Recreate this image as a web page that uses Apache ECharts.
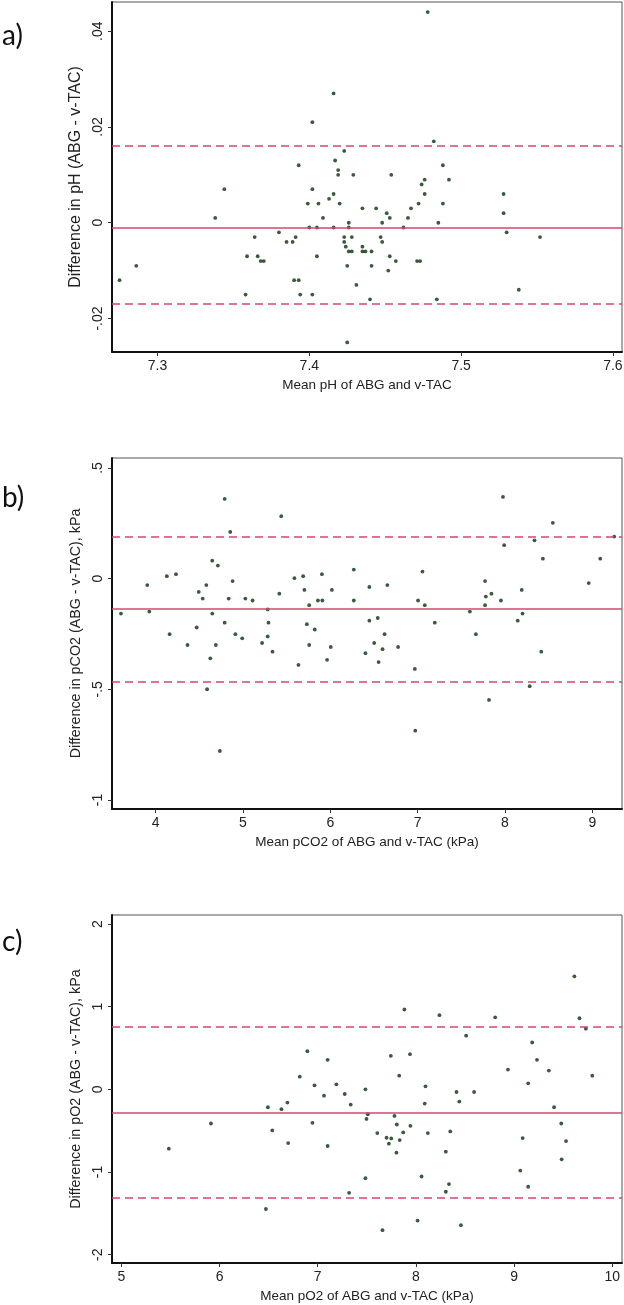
<!DOCTYPE html>
<html>
<head>
<meta charset="utf-8">
<script src="https://cdn.jsdelivr.net/npm/echarts@6/dist/echarts.min.js"></script>
<style>
html,body{margin:0;padding:0;background:#fff;}
#chart{width:624px;height:1305px;}
</style>
</head>
<body>
<div id="chart"></div>
<script>
// ---------- Panel a: pH ----------
const phMean = [7.478,7.416,7.402,7.482,7.423,7.393,7.417,7.488,7.419,7.419,7.429,7.454,7.492,7.476,7.474,7.344,7.402,7.476,7.416,7.528,7.413,7.399,7.406,7.420,7.472,7.488,7.435,7.444,7.467,7.451,7.528,7.338,7.409,7.453,7.465,7.400,7.405,7.416,7.426,7.426,7.448,7.485,7.462,7.530,7.380,7.364,7.391,7.423,7.428,7.447,7.552,7.385,7.389,7.423,7.448,7.424,7.435,7.426,7.428,7.435,7.437,7.441,7.359,7.366,7.405,7.453,7.368,7.370,7.457,7.471,7.473,7.286,7.425,7.441,7.452,7.275,7.390,7.393,7.431,7.538,7.358,7.394,7.402,7.440,7.484,7.425];
const phDiff = [0.044,0.027,0.021,0.017,0.015,0.012,0.013,0.012,0.011,0.010,0.010,0.010,0.009,0.009,0.008,0.007,0.007,0.006,0.006,0.006,0.005,0.004,0.004,0.004,0.004,0.004,0.003,0.003,0.003,0.002,0.002,0.001,0.001,0.001,0.001,-0.001,-0.001,-0.001,-0.001,0.000,0.000,0.000,-0.001,-0.002,-0.002,-0.003,-0.003,-0.003,-0.003,-0.003,-0.003,-0.004,-0.004,-0.004,-0.004,-0.005,-0.005,-0.006,-0.006,-0.006,-0.006,-0.006,-0.007,-0.007,-0.007,-0.007,-0.008,-0.008,-0.008,-0.008,-0.008,-0.009,-0.009,-0.009,-0.010,-0.012,-0.012,-0.012,-0.013,-0.014,-0.015,-0.015,-0.015,-0.016,-0.016,-0.025];
const phLines = { bias: -0.001, upper: 0.016, lower: -0.017 };
const phXTicks = [7.3, 7.4, 7.5, 7.6];
const phXLabels = ['7.3', '7.4', '7.5', '7.6'];
const phYTicks = [-0.02, 0, 0.02, 0.04];
const phYLabels = ['-.02', '0', '.02', '.04'];

// ---------- Panel b: pCO2 ----------
const co2Mean = [3.603,3.904,3.927,4.128,4.233,4.160,4.365,4.470,4.493,4.539,4.580,4.648,4.712,4.648,4.689,4.790,4.854,4.881,4.836,4.790,4.913,4.991,5.027,5.110,5.219,5.283,5.292,5.283,5.438,5.416,5.589,5.689,5.703,5.758,5.731,5.822,5.758,5.858,5.909,5.904,6.018,6.005,6.269,6.269,6.447,6.447,6.543,6.621,6.502,6.598,6.653,6.776,7.005,7.082,7.055,7.196,7.598,7.667,7.772,7.772,7.781,7.845,7.954,7.977,7.991,8.146,8.192,8.201,8.338,8.434,8.548,9.251,8.959,9.091,8.416,4.626,5.635,5.963,6.402,6.553,6.968,5.338,4.589,7.817,8.283,6.973,4.735];
const co2Diff = [-0.158,-0.029,-0.149,0.011,0.020,-0.251,-0.300,-0.221,-0.060,-0.090,-0.029,0.081,0.059,-0.158,-0.300,0.360,0.211,-0.011,-0.090,-0.199,-0.251,-0.270,-0.090,-0.099,-0.291,-0.139,-0.199,-0.261,0.282,-0.068,0.002,0.011,-0.051,-0.120,-0.206,-0.230,-0.300,-0.099,-0.099,0.020,-0.051,-0.309,0.041,-0.099,-0.038,-0.190,-0.178,-0.251,-0.291,-0.319,-0.029,-0.309,-0.099,-0.120,0.032,-0.199,-0.149,-0.251,-0.011,-0.120,-0.081,-0.068,-0.099,0.369,0.151,-0.190,-0.051,-0.158,0.173,0.090,0.252,0.190,-0.020,0.090,-0.330,-0.360,-0.390,-0.367,-0.337,-0.377,-0.408,-0.330,-0.500,-0.548,-0.486,-0.687,-0.779];
const co2Lines = { bias: -0.138, upper: 0.19, lower: -0.465 };
const co2XTicks = [4, 5, 6, 7, 8, 9];
const co2XLabels = ['4', '5', '6', '7', '8', '9'];
const co2YTicks = [-1, -0.5, 0, 0.5];
const co2YLabels = ['-1', '-.5', '0', '.5'];

// ---------- Panel c: pO2 ----------
const o2Mean = [9.615,7.883,8.240,8.808,9.667,9.732,8.512,9.185,6.894,7.940,7.745,7.101,9.234,8.938,9.355,6.817,7.830,9.797,6.967,7.190,8.098,9.144,7.486,7.275,7.064,8.414,8.593,9.408,6.492,6.630,6.691,7.336,8.090,8.443,7.510,7.497,7.782,5.912,6.946,7.806,7.944,9.481,6.537,7.607,7.871,8.122,8.350,7.701,7.749,7.835,9.088,9.530,6.699,7.725,5.483,7.101,7.802,8.305,9.485,9.064,7.486,8.058,9.144,8.337,7.320,8.305,6.472,8.017,8.459,7.660];
const o2Diff = [1.367,0.966,0.897,0.872,0.860,0.734,0.649,0.568,0.462,0.426,0.406,0.357,0.357,0.239,0.227,0.154,0.166,0.166,0.049,0.061,0.037,0.073,0.000,-0.056,-0.076,-0.032,-0.032,-0.216,-0.216,-0.240,-0.160,-0.184,-0.172,-0.148,-0.301,-0.357,-0.321,-0.413,-0.405,-0.425,-0.441,-0.413,-0.497,-0.529,-0.521,-0.529,-0.509,-0.585,-0.593,-0.613,-0.589,-0.625,-0.649,-0.657,-0.717,-0.685,-0.766,-0.754,-0.846,-0.982,-1.074,-1.054,-1.178,-1.146,-1.251,-1.238,-1.447,-1.587,-1.643,-1.703];
const o2Lines = { bias: -0.287, upper: 0.76, lower: -1.31 };
const o2XTicks = [5, 6, 7, 8, 9, 10];
const o2XLabels = ['5', '6', '7', '8', '9', '10'];
const o2YTicks = [-2, -1, 0, 1, 2];
const o2YLabels = ['-2', '-1', '0', '1', '2'];

const panelLabels = ['a)', 'b)', 'c)'];
const xNames = ['Mean pH of ABG and v-TAC', 'Mean pCO2 of ABG and v-TAC (kPa)', 'Mean pO2 of ABG and v-TAC (kPa)'];
const yNames = ['Difference in pH (ABG - v-TAC)', 'Difference in pCO2 (ABG - v-TAC), kPa', 'Difference in pO2 (ABG - v-TAC), kPa'];

// ---------- styling / layout ----------
const FONT = '"Liberation Sans", Arial, sans-serif';
const TXT = '#222';
const LINE_COLOR = '#d6466f';
const DOT_COLOR = '#08320b';

const panels = [
  { mean: phMean, diff: phDiff, lines: phLines, xt: phXTicks, xl: phXLabels, yt: phYTicks, yl: phYLabels,
    xr: [7.27, 7.606], yr: [-0.027, 0.0461], top: 2, height: 350, labelTop: 22, yNameSize: 16 },
  { mean: co2Mean, diff: co2Diff, lines: co2Lines, xt: co2XTicks, xl: co2XLabels, yt: co2YTicks, yl: co2YLabels,
    xr: [3.5, 9.34], yr: [-1.041, 0.545], top: 458, height: 351, labelTop: 484, yNameSize: 14.3 },
  { mean: o2Mean, diff: o2Diff, lines: o2Lines, xt: o2XTicks, xl: o2XLabels, yt: o2YTicks, yl: o2YLabels,
    xr: [4.904, 10.1], yr: [-2.10, 2.109], top: 915, height: 348, labelTop: 928, yNameSize: 14.3 }
];

function fmt(ticks, labels) {
  return function (v) {
    for (let i = 0; i < ticks.length; i++) {
      if (Math.abs(ticks[i] - v) < 1e-9) return labels[i];
    }
    return '';
  };
}

const grids = [], xAxes = [], yAxes = [], series = [], graphics = [];
panels.forEach((p, i) => {
  grids.push({ left: 112, width: 510, top: p.top, height: p.height, show: true,
    borderColor: '#555', borderWidth: 1, backgroundColor: 'transparent', containLabel: false, outerBoundsMode: 'none' });
  xAxes.push({
    type: 'value', gridIndex: i, min: p.xr[0], max: p.xr[1],
    name: xNames[i], nameLocation: 'middle', nameGap: 26,
    nameTextStyle: { fontSize: 13.5, color: TXT, fontFamily: FONT },
    axisLine: { show: true, onZero: false, lineStyle: { color: '#111', width: 2 } },
    axisTick: { show: true, length: 4, customValues: p.xt, lineStyle: { color: '#333', width: 1 } },
    axisLabel: { customValues: p.xt, formatter: fmt(p.xt, p.xl), fontSize: 14, color: TXT, fontFamily: FONT, margin: 7 },
    splitLine: { show: false }
  });
  yAxes.push({
    type: 'value', gridIndex: i, min: p.yr[0], max: p.yr[1],
    name: yNames[i], nameLocation: 'middle', nameGap: 25, nameRotate: 90,
    nameTextStyle: { fontSize: p.yNameSize, color: TXT, fontFamily: FONT },
    axisLine: { show: true, onZero: false, lineStyle: { color: '#111', width: 2 } },
    axisTick: { show: true, length: 4, customValues: p.yt, lineStyle: { color: '#333', width: 1 } },
    axisLabel: { customValues: p.yt, formatter: fmt(p.yt, p.yl), rotate: 90, fontSize: 14, color: TXT, fontFamily: FONT, margin: 7 },
    splitLine: { show: false }
  });
  series.push({
    type: 'scatter', xAxisIndex: i, yAxisIndex: i,
    data: p.mean.map((x, k) => [x, p.diff[k]]),
    symbol: 'circle', symbolSize: 3.8,
    itemStyle: { color: DOT_COLOR },
    z: 3,
    markLine: {
      silent: true, symbol: ['none', 'none'], label: { show: false }, animation: false,
      precision: 6,
      lineStyle: { color: LINE_COLOR, width: 1.5 },
      data: [
        { yAxis: p.lines.bias, lineStyle: { type: 'solid', color: LINE_COLOR, width: 1.5 } },
        { yAxis: p.lines.upper, lineStyle: { type: [8, 5], color: LINE_COLOR, width: 1.5 } },
        { yAxis: p.lines.lower, lineStyle: { type: [8, 5], color: LINE_COLOR, width: 1.5 } }
      ]
    }
  });
  graphics.push({ type: 'text', left: 2, top: p.labelTop,
    style: { text: panelLabels[i], font: '28px Lato, "Open Sans", sans-serif', fill: '#111' } });
});

const chart = echarts.init(document.getElementById('chart'), null, { renderer: 'canvas' });
chart.setOption({
  animation: false,
  backgroundColor: '#fff',
  grid: grids,
  xAxis: xAxes,
  yAxis: yAxes,
  series: series,
  graphic: graphics
});
</script>
</body>
</html>
